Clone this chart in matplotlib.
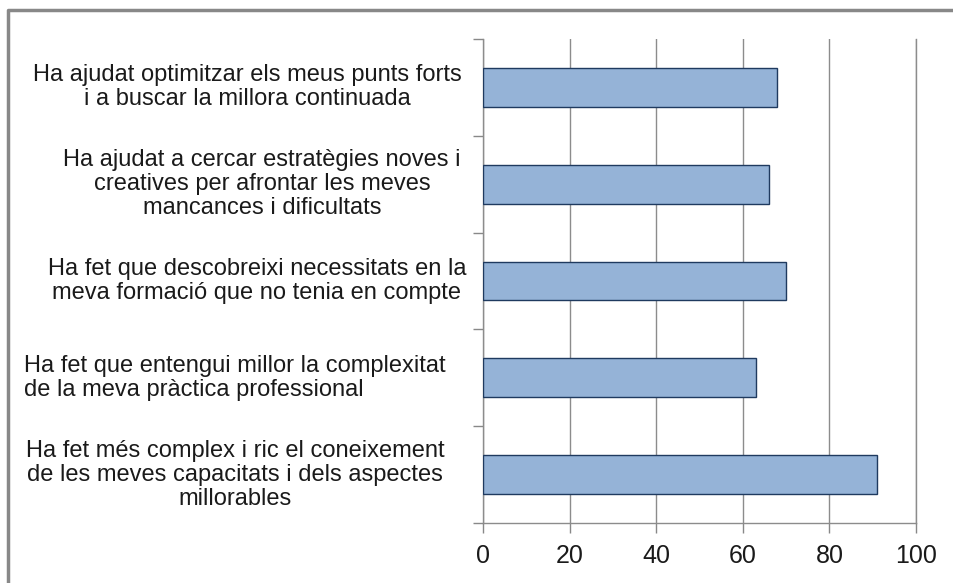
import matplotlib as mpl
mpl.rcParams["font.family"] = ["Liberation Sans", "DejaVu Sans"]
import numpy as np
import matplotlib.pyplot as plt
from matplotlib.lines import Line2D

labels = [
    "Ha ajudat optimitzar els meus punts forts\ni a buscar la millora continuada",
    "Ha ajudat a cercar estratègies noves i\ncreatives per afrontar les meves\nmancances i dificultats",
    "Ha fet que descobreixi necessitats en la\nmeva formació que no tenia en compte",
    "Ha fet que entengui millor la complexitat\nde la meva pràctica professional",
    "Ha fet més complex i ric el coneixement\nde les meves capacitats i dels aspectes\nmillorables",
]
values = [68, 66, 70, 63, 91]
xticks = [0, 20, 40, 60, 80, 100]

# label centres in figure pixels, alignment of wrapped lines
label_x = [247, 262, 257, 235, 235]
label_align = ["center", "center", "center", "left", "center"]

W, H = 954, 583
fig = plt.figure(figsize=(W / 100, H / 100), dpi=100)
ax = fig.add_axes([483 / W, 1 - 523 / H, (916 - 483) / W, (523 - 39) / H])

n = len(values)
pos = np.arange(n)[::-1]
ax.barh(pos, values, height=0.4, color="#95B3D7", edgecolor="#1F3A5F",
        linewidth=1.0, zorder=3)

ax.set_xlim(0, 100)
ax.set_ylim(-0.5, n - 0.5)
ax.set_xticks(xticks)
ax.set_xticklabels([str(t) for t in xticks], fontsize=18, color="#1a1a1a")
ax.set_yticks(np.arange(n + 1) - 0.5)
ax.set_yticklabels([])
ax.tick_params(axis="x", length=7, width=1, color="#888888", pad=8)
ax.tick_params(axis="y", length=7, width=1, color="#888888")
ax.grid(axis="x", color="#8c8c8c", linewidth=1, zorder=0)
ax.spines["top"].set_visible(False)
for s in ["left", "bottom", "right"]:
    ax.spines[s].set_color("#8c8c8c")
    ax.spines[s].set_linewidth(1)

# category labels
for p, lab, lx, al in zip(pos, labels, label_x, label_align):
    yc = ax.transData.transform((0, p))[1]
    fig.text(lx / W, yc / H, lab, ha="center", va="center",
             multialignment=al, fontsize=17, linespacing=1.12,
             color="#1a1a1a")

# outer frame (only top and left visible)
fig.add_artist(Line2D([8 / W, 8 / W, 1.0], [0.0, 1 - 10 / H, 1 - 10 / H],
                      transform=fig.transFigure, color="#888888", lw=2.5))

fig.savefig("out.png", dpi=100)
